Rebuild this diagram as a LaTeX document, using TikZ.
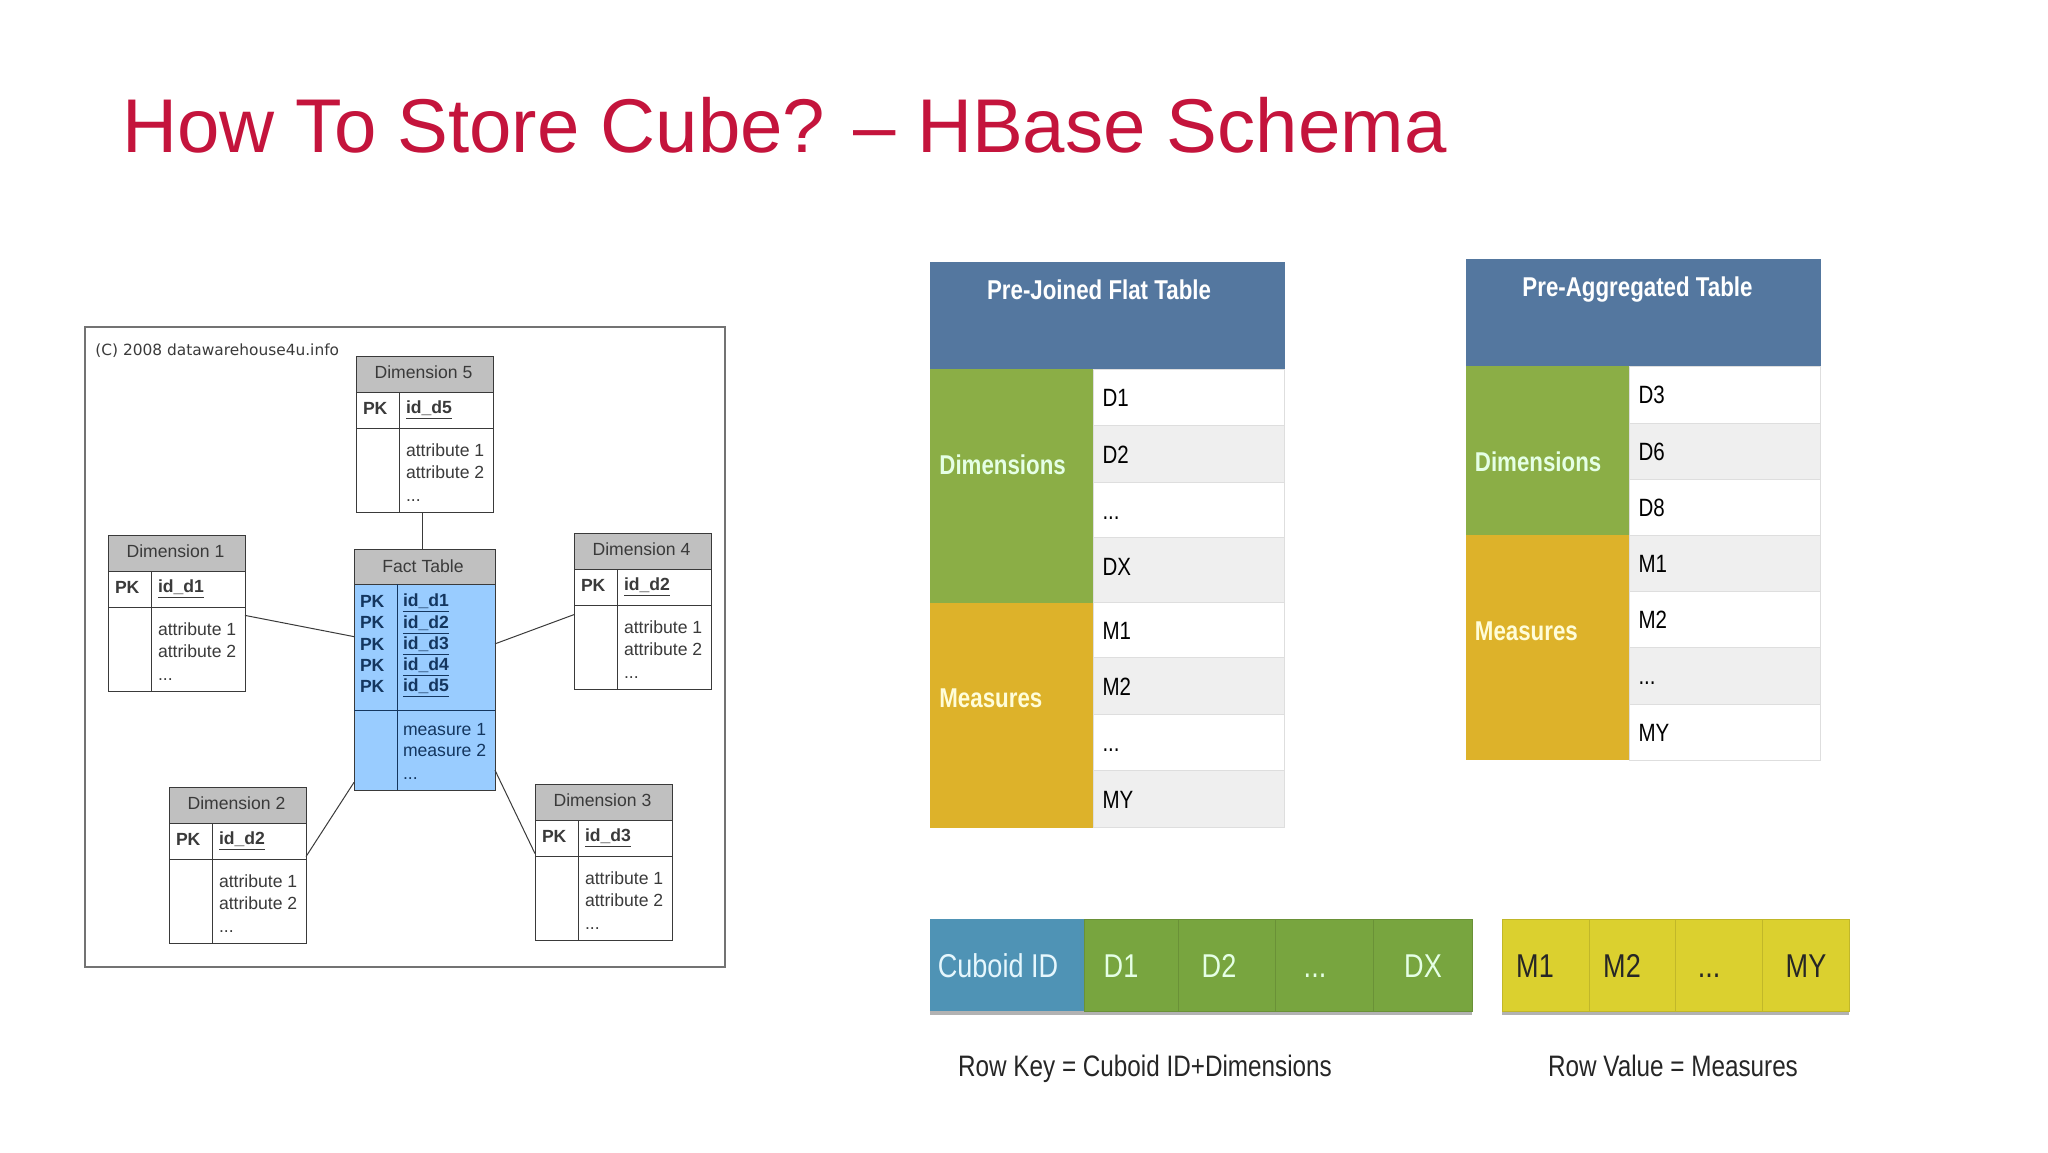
\documentclass[tikz,border=0pt]{standalone}
\usepackage[usenames,dvipsnames]{xcolor}
\usepackage{fontspec}
\setmainfont{Liberation Sans}
\newfontfamily\condfont[FakeStretch=0.82]{Liberation Sans}
\newfontfamily\stampfont{DejaVu Sans}
\usetikzlibrary{shadows}

\definecolor{titlered}{HTML}{C4143C}
\definecolor{headgray}{HTML}{C0C0C0}
\definecolor{tableink}{HTML}{3A3A3A}
\definecolor{factblue}{HTML}{99CCFF}
\definecolor{factink}{HTML}{14365F}
\definecolor{headblue}{HTML}{54779F}
\definecolor{dimgreen}{HTML}{8BAE46}
\definecolor{measgold}{HTML}{DDB22A}
\definecolor{rowgray}{HTML}{EFEFEF}
\definecolor{rowline}{HTML}{DEDEDE}
\definecolor{idblue}{HTML}{4F93B5}
\definecolor{bargreen}{HTML}{78A53F}
\definecolor{baryellow}{HTML}{DBD02F}

\tikzset{
	tablebox/.style={rectangle, draw=tableink, line width=0.5pt, anchor=north west, inner sep=0pt, outer sep=0pt},
	tabletext/.style={inner sep=0pt, outer sep=0pt, text=tableink, font=\fontsize{8.8}{10.65}\selectfont},
	block/.style={rectangle, anchor=north west, inner sep=0pt, outer sep=0pt},
	rowcell/.style={rectangle, draw=rowline, line width=0.5pt, anchor=north west, outer sep=0pt, inner xsep=4.5pt, inner ysep=0pt, text width=86.5pt, align=left, text height=9pt, text depth=0pt, font=\condfont\fontsize{12.5}{15}\selectfont},
	headtext/.style={inner sep=0pt, text=white, font=\condfont\bfseries\fontsize{13.6}{16}\selectfont},
	dimtext/.style={anchor=west, inner sep=0pt, text=green!10!white, font=\condfont\bfseries\fontsize{13.6}{16}\selectfont},
	meastext/.style={anchor=west, inner sep=0pt, text=yellow!15!white, font=\condfont\bfseries\fontsize{13.6}{16}\selectfont},
	barcell/.style={rectangle, anchor=north west, inner sep=0pt, outer sep=0pt, minimum height=46pt, line width=0.3pt, drop shadow={shadow xshift=0pt, shadow yshift=-2pt, opacity=0.3, fill=black}},
	bartext/.style={inner sep=0pt, text height=12pt, text depth=0pt, font=\condfont\fontsize{16.5}{20}\selectfont},
	captiontext/.style={inner sep=0pt, text=black!85, font=\condfont\fontsize{14.8}{18}\selectfont},
	link/.style={draw=tableink, line width=0.5pt},
}

\begin{document}
\begin{tikzpicture}[x=0.5pt, y=-0.5pt]

\useasboundingbox (0,0) rectangle (2048,1152);

\newcommand\dimtable[5]{
	\begin{scope}[shift={(#2,#3)}]
		\node at (0,0) [tablebox, fill=white, minimum width=68.5pt, minimum height=78pt] (#1) {};
		\node at (0,0) [tablebox, fill=headgray, minimum width=68.5pt, minimum height=18pt] (#1head) {};
		\node at (67.5,16) [tabletext] (#1title) {#4};
		\node at (0,36) [tablebox, minimum width=68.5pt, minimum height=18pt] (#1key) {};
		\draw[tableink, line width=0.5pt] (43,36) -- (43,156);
		\node at (7,52) [tabletext, anchor=west] (#1pk) {\textbf{PK}};
		\node at (50,54) [tabletext, anchor=west] (#1id) {\textbf{\underline{#5}}};
		\node at (50,88) [tabletext, anchor=north west, align=left] (#1attr) {attribute 1\\attribute 2\\[1pt]...};
	\end{scope}
}

\node at (122,152) [anchor=base west, inner sep=0pt, text=titlered, font=\fontsize{38.1}{44}\selectfont] (title) {How To Store Cube? – HBase Schema};

% star schema
\node at (85,327) [block, draw=black!55, line width=1pt, minimum width=320pt, minimum height=320pt] (frame) {};
\node at (95,351) [anchor=west, inner sep=0pt, text=tableink, font=\stampfont\fontsize{7.7}{9}\selectfont] (stamp) {(C) 2008 datawarehouse4u.info};

\dimtable{dimfive}{356}{356}{Dimension 5}{id\_d5}
\dimtable{dimone}{108}{535}{Dimension 1}{id\_d1}
\dimtable{dimfour}{574}{533}{Dimension 4}{id\_d2}
\dimtable{dimtwo}{169}{787}{Dimension 2}{id\_d2}
\dimtable{dimthree}{535}{784}{Dimension 3}{id\_d3}

\node at (354,549) [tablebox, fill=factblue, minimum width=70.5pt, minimum height=120.5pt] (fact) {};
\node at (354,549) [tablebox, fill=headgray, minimum width=70.5pt, minimum height=17.5pt] (facthead) {};
\node at (423,566) [tabletext] (facttitle) {Fact Table};
\draw[factink, line width=0.5pt] (397,584) -- (397,790);
\draw[factink, line width=0.5pt] (354,710) -- (495,710);
\node at (360,644) [tabletext, anchor=west, align=left, text=factink] (factpk) {\textbf{PK}\\\textbf{PK}\\\textbf{PK}\\\textbf{PK}\\\textbf{PK}};
\node at (403,646) [tabletext, anchor=west, align=left, text=factink] (factid) {\textbf{\underline{id\_d1}}\\\textbf{\underline{id\_d2}}\\\textbf{\underline{id\_d3}}\\\textbf{\underline{id\_d4}}\\\textbf{\underline{id\_d5}}};
\node at (403,723) [tabletext, anchor=north west, align=left, text=factink] (factmeasure) {measure 1\\measure 2\\[1pt]...};

\draw[link] ([xshift=-1pt]dimfive.south) -- ([xshift=-1pt]fact.north);
\draw[link] (dimone.-2) -- (fact.155);
\draw[link] (dimfour.183) -- (fact.20);
\draw[link] (dimtwo.7) -- (fact.238);
\draw[link] (dimthree.173) -- (fact.-55);

% pre-joined table
\node at (930,261.5) [block, fill=headblue, minimum width=177.5pt, minimum height=53.75pt] (flathead) {};
\node at (1099,290) [headtext] (flattitle) {Pre-Joined Flat Table};
\node at (930,369) [block, fill=dimgreen, minimum width=82pt, minimum height=116.75pt] (flatdim) {};
\node at (930,602.5) [block, fill=measgold, minimum width=82pt, minimum height=112.5pt] (flatmeas) {};
\node at (939,465) [dimtext] (flatdimlabel) {Dimensions};
\node at (939,698) [meastext] (flatmeaslabel) {Measures};

\node at (1093.5,369) [rowcell, fill=white, minimum height=28.25pt] (flatdone) {D1};
\node at (1093.5,425.5) [rowcell, fill=rowgray, minimum height=28.5pt] (flatdtwo) {D2};
\node at (1093.5,482.5) [rowcell, fill=white, minimum height=27.5pt] (flatddots) {...};
\node at (1093.5,537.5) [rowcell, fill=rowgray, minimum height=32.5pt, text depth=4pt] (flatdx) {DX};
\node at (1093.5,602.5) [rowcell, fill=white, minimum height=27.5pt] (flatmone) {M1};
\node at (1093.5,657.5) [rowcell, fill=rowgray, minimum height=28.5pt] (flatmtwo) {M2};
\node at (1093.5,714.5) [rowcell, fill=white, minimum height=28pt] (flatmdots) {...};
\node at (1093.5,770.5) [rowcell, fill=rowgray, minimum height=28.5pt] (flatmy) {MY};

% pre-aggregated table
\node at (1465.5,259) [block, fill=headblue, minimum width=177.5pt, minimum height=53.5pt] (agghead) {};
\node at (1637.5,290) [headtext] (aggtitle) {Pre-Aggregated Table};
\node at (1465.5,366) [block, fill=dimgreen, minimum width=82pt, minimum height=84.5pt] (aggdim) {};
\node at (1465.5,535) [block, fill=measgold, minimum width=82pt, minimum height=112.5pt] (aggmeas) {};
\node at (1474.5,462) [dimtext] (aggdimlabel) {Dimensions};
\node at (1474.5,631) [meastext] (aggmeaslabel) {Measures};

\node at (1629.5,366) [rowcell, fill=white, minimum height=28.5pt] (aggdthree) {D3};
\node at (1629.5,423) [rowcell, fill=rowgray, minimum height=28pt] (aggdsix) {D6};
\node at (1629.5,479) [rowcell, fill=white, minimum height=28pt] (aggdeight) {D8};
\node at (1629.5,535) [rowcell, fill=rowgray, minimum height=28pt] (aggmone) {M1};
\node at (1629.5,591) [rowcell, fill=white, minimum height=28pt] (aggmtwo) {M2};
\node at (1629.5,647) [rowcell, fill=rowgray, minimum height=28.5pt] (aggmdots) {...};
\node at (1629.5,704) [rowcell, fill=white, minimum height=28pt] (aggmy) {MY};

% row key and row value
\node at (930,919) [barcell, fill=idblue, minimum width=77pt] (barid) {};
\node at (1084,919) [barcell, fill=bargreen, draw=bargreen!88!black, minimum width=47pt] (bardone) {};
\node at (1178,919) [barcell, fill=bargreen, draw=bargreen!88!black, minimum width=48.5pt] (bardtwo) {};
\node at (1275,919) [barcell, fill=bargreen, draw=bargreen!88!black, minimum width=49pt] (barddots) {};
\node at (1373,919) [barcell, fill=bargreen, draw=bargreen!88!black, minimum width=49.5pt] (bardx) {};
\node at (1502,919) [barcell, fill=baryellow, draw=baryellow!88!black, minimum width=43.5pt] (barmone) {};
\node at (1589,919) [barcell, fill=baryellow, draw=baryellow!88!black, minimum width=43pt] (barmtwo) {};
\node at (1675,919) [barcell, fill=baryellow, draw=baryellow!88!black, minimum width=43.5pt] (barmdots) {};
\node at (1762,919) [barcell, fill=baryellow, draw=baryellow!88!black, minimum width=43.5pt] (barmy) {};

\node at (998,965) [bartext, text=cyan!10!white] (baridlabel) {Cuboid ID};
\node at (1121,965) [bartext, text=green!10!white] (bardonelabel) {D1};
\node at (1219,965) [bartext, text=green!10!white] (bardtwolabel) {D2};
\node at (1315,965) [bartext, text=green!10!white] (barddotslabel) {...};
\node at (1423,965) [bartext, text=green!10!white] (bardxlabel) {DX};
\node at (1535,965) [bartext, text=black!85] (barmonelabel) {M1};
\node at (1622,965) [bartext, text=black!85] (barmtwolabel) {M2};
\node at (1709,965) [bartext, text=black!85] (barmdotslabel) {...};
\node at (1806,965) [bartext, text=black!85] (barmylabel) {MY};

\node at (1145,1069) [captiontext] (keycaption) {Row Key = Cuboid ID+Dimensions};
\node at (1673,1066) [captiontext] (valuecaption) {Row Value = Measures};

\end{tikzpicture}
\end{document}
